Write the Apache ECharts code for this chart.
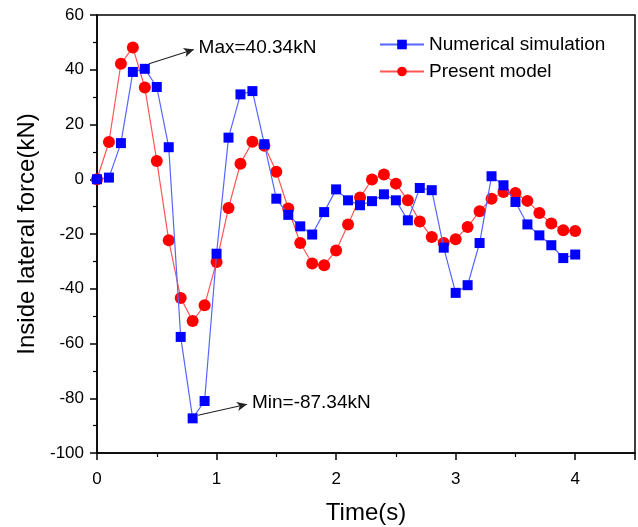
<!DOCTYPE html>
<html>
<head>
<meta charset="utf-8">
<script src="https://cdn.jsdelivr.net/npm/echarts@6/dist/echarts.min.js"></script>
<style>
  html, body { margin: 0; padding: 0; background: #fff; }
  #chart { width: 638px; height: 527px; }
</style>
</head>
<body>
<div id="chart"></div>
<script>
// time steps (s)
const timeSteps = [0, 0.1, 0.2, 0.3, 0.4, 0.5, 0.6, 0.7, 0.8, 0.9, 1.0,
  1.1, 1.2, 1.3, 1.4, 1.5, 1.6, 1.7, 1.8, 1.9, 2.0,
  2.1, 2.2, 2.3, 2.4, 2.5, 2.6, 2.7, 2.8, 2.9, 3.0,
  3.1, 3.2, 3.3, 3.4, 3.5, 3.6, 3.7, 3.8, 3.9, 4.0];

// Numerical simulation (kN)
const numericalForce = [0, 0.6, 13.2, 39.2, 40.34, 33.7, 11.7, -57.6, -87.34, -81, -27.2,
  15.2, 31, 32.2, 12.8, -7.1, -13, -17.2, -20.2, -12, -3.7,
  -7.7, -9.5, -8, -5.5, -7.7, -15, -3.2, -4, -25, -41.5,
  -38.7, -23.3, 1.1, -2.2, -8.3, -16.5, -20.5, -24.1, -28.8, -27.5];

// Present model (kN)
const presentForce = [0, 13.6, 42.2, 48.1, 33.5, 6.7, -22.3, -43.4, -51.8, -46, -30.2,
  -10.5, 5.7, 13.7, 12.2, 2.7, -10.7, -23.3, -30.8, -31.4, -26,
  -16.5, -6.7, -0.1, 1.7, -1.6, -7.7, -15.4, -21.1, -23.3, -21.9,
  -17.4, -11.7, -7.1, -4.7, -5, -7.9, -12.3, -16.2, -18.6, -18.9];

const xTicks = [0, 1, 2, 3, 4];
const yTicks = [-100, -80, -60, -40, -20, 0, 20, 40, 60];

const FONT = 'Liberation Sans, Arial, sans-serif';

const chart = echarts.init(document.getElementById('chart'));

const pair = (ys) => timeSteps.map((t, i) => [t, ys[i]]);

const arrowLine = (from, to, text) => [
  { coord: from, symbol: 'none' },
  {
    coord: to, symbol: 'arrow', symbolSize: [7, 10],
    label: { show: true, position: 'end', distance: 5, formatter: text, color: '#000', fontSize: 19, fontFamily: FONT }
  }
];

chart.setOption({
  animation: false,
  grid: {
    left: 97, top: 15, right: 3, bottom: 74,
    outerBoundsMode: 'none',
    show: true, borderColor: '#000', borderWidth: 1.5, backgroundColor: 'transparent'
  },
  legend: {
    orient: 'vertical',
    left: 374, top: 30,
    itemWidth: 44, itemHeight: 12, itemGap: 8,
    textStyle: { fontSize: 19, color: '#000', fontFamily: FONT },
    data: ['Numerical simulation', 'Present model']
  },
  xAxis: {
    type: 'value', min: 0, max: 4.5, interval: 1,
    name: 'Time(s)', nameLocation: 'middle', nameGap: 48,
    nameTextStyle: { fontSize: 24, color: '#000', fontFamily: FONT },
    axisLine: { onZero: false, lineStyle: { color: '#000', width: 1.5 } },
    axisTick: { show: true, inside: false, length: 7, lineStyle: { color: '#000', width: 1.5 } },
    minorTick: { show: true, splitNumber: 2, length: 4, lineStyle: { color: '#000', width: 1.2 } },
    axisLabel: {
      margin: 18, fontSize: 17, color: '#000', fontFamily: FONT,
      formatter: (v) => xTicks.includes(v) ? String(v) : ''
    },
    splitLine: { show: false }
  },
  yAxis: {
    type: 'value', min: -100, max: 60, interval: 20,
    name: 'Inside lateral force(kN)', nameLocation: 'middle', nameGap: 55,
    nameTextStyle: { fontSize: 24, color: '#000', fontFamily: FONT },
    axisLine: { show: true, onZero: false, lineStyle: { color: '#000', width: 1.5 } },
    axisTick: { show: true, inside: false, length: 7, lineStyle: { color: '#000', width: 1.5 } },
    minorTick: { show: true, splitNumber: 2, length: 4, lineStyle: { color: '#000', width: 1.2 } },
    axisLabel: {
      margin: 13, fontSize: 17, color: '#000', fontFamily: FONT,
      formatter: (v) => yTicks.includes(v) ? String(v) : ''
    },
    splitLine: { show: false }
  },
  series: [
    {
      name: 'Numerical simulation',
      type: 'line',
      data: pair(numericalForce),
      symbol: 'rect', symbolSize: 10,
      itemStyle: { color: '#0000ff' },
      lineStyle: { color: '#5566ff', width: 1.2 },
      z: 3,
      markLine: {
        silent: true,
        animation: false,
        lineStyle: { color: '#222', width: 1.2, type: 'solid' },
        data: [
          arrowLine([0.435, 42.2], [0.81, 47.4], 'Max=40.34kN'),
          arrowLine([0.845, -86.2], [1.255, -82.2], 'Min=-87.34kN')
        ]
      }
    },
    {
      name: 'Present model',
      type: 'line',
      data: pair(presentForce),
      symbol: 'circle', symbolSize: 12,
      itemStyle: { color: '#ff0000' },
      lineStyle: { color: '#ff5555', width: 1.2 },
      z: 2
    }
  ]
});
</script>
</body>
</html>
